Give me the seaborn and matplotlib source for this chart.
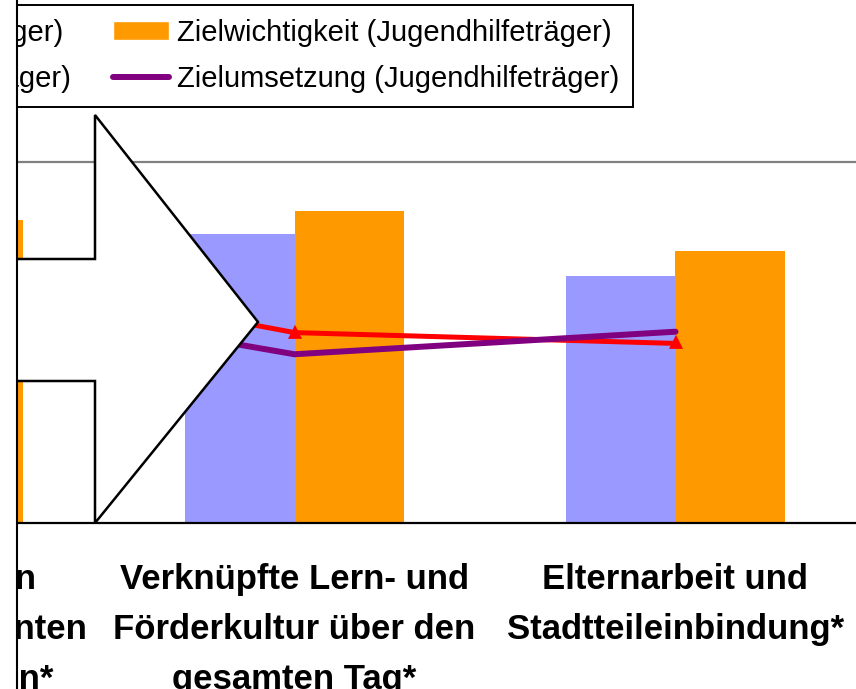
import pandas as pd
import matplotlib.pyplot as plt
import seaborn as sns
from matplotlib.patches import Polygon, Rectangle, Patch
from matplotlib.lines import Line2D

# Daten (Skala 0-4)
kategorien = ["Förderung von\nbesonderen Talenten\nund Fähigkeiten*",
              "Verknüpfte Lern- und\nFörderkultur über den\ngesamten Tag*",
              "Elternarbeit und\nStadtteileinbindung*"]
wichtig_schule = [3.10, 3.20, 2.74]
wichtig_jugend = [3.36, 3.46, 3.01]
umsetzung_schule = [2.90, 2.11, 1.99]
umsetzung_jugend = [2.60, 1.87, 2.12]

serien = ["Zielwichtigkeit (Schulträger)", "Zielwichtigkeit (Jugendhilfeträger)",
          "Zielumsetzung (Schulträger)", "Zielumsetzung (Jugendhilfeträger)"]

bars = pd.DataFrame({
    "kategorie": kategorien * 2,
    "wert": wichtig_schule + wichtig_jugend,
    "serie": [serien[0]] * 3 + [serien[1]] * 3,
})

sns.set_style("white")
plt.rcParams['font.family'] = ['Liberation Sans', 'DejaVu Sans']
plt.rcParams['text.color'] = 'black'

W, H = 856, 689
fig = plt.figure(figsize=(W / 100, H / 100), dpi=100)


def fx(px):
    return px / W


def fy(py):
    return 1 - py / H


# Achse reicht links und rechts über den Bildrand hinaus (Ausschnitt)
ax = fig.add_axes([fx(-277), fy(523), 1143 / W, 379 / H])

sns.barplot(data=bars, x="kategorie", y="wert", hue="serie",
            palette=["#9999FF", "#FF9900"], width=0.575, saturation=1,
            linewidth=0, legend=False, ax=ax)
sns.pointplot(x=kategorien, y=umsetzung_schule, color="#FF0000", markers="^",
              markersize=6, linewidth=3.6, ax=ax)
sns.pointplot(x=kategorien, y=umsetzung_jugend, color="#800080", markers="o",
              markersize=0, linewidth=4.3, solid_capstyle="round", ax=ax)

ax.set_xlim(-0.5, 2.5)
ax.set_ylim(0, 4.2)
ax.set_xlabel("")
ax.set_ylabel("")
ax.set_yticks([4])
ax.set_yticklabels([])
ax.tick_params(axis='y', length=0)
ax.yaxis.grid(True, color="#808080", linewidth=1.6)
ax.set_axisbelow(True)

ax.set_xticks([0.5, 1.5])
ax.set_xticklabels([])
ax.set_xticks([0, 1, 2], minor=True)
ax.set_xticklabels(kategorien, minor=True, fontsize=25, fontweight="bold",
                   linespacing=1.65, color="black")
ax.tick_params(axis='x', which='major', length=9, width=1, color="#333333",
               direction='out')
ax.tick_params(axis='x', which='minor', length=0, pad=29)

for s in ["top", "right", "left"]:
    ax.spines[s].set_visible(False)
ax.spines["bottom"].set_color("black")
ax.spines["bottom"].set_linewidth(1.6)

# Pfeil-Form
pfeil = [(-20, 259), (95, 259), (95, 115), (258, 322), (95, 523),
         (95, 381), (-20, 381)]
fig.add_artist(Polygon([(fx(x), fy(y)) for x, y in pfeil], closed=True,
                       transform=fig.transFigure, facecolor="white",
                       edgecolor="black", linewidth=1.8, joinstyle="miter",
                       zorder=6))

# Legende
handles = [Patch(facecolor="#9999FF"),
           Line2D([], [], color="#FF0000", lw=3.6, marker="^", markersize=6),
           Patch(facecolor="#FF9900"),
           Line2D([], [], color="#800080", lw=4.3, solid_capstyle="round")]
labels = [serien[0], serien[2], serien[1], serien[3]]
leg = fig.legend(handles, labels, ncol=2, loc="upper right",
                 bbox_to_anchor=(fx(633), fy(5)), frameon=True, fancybox=False,
                 edgecolor="black", framealpha=1, fontsize=21,
                 handlelength=1.92, handleheight=0.65, handletextpad=0.27,
                 columnspacing=1.44, labelspacing=0.63, borderpad=0.48,
                 borderaxespad=0)
leg.get_frame().set_linewidth(1.4)
leg.set_zorder(7)

# linker Rand des Ausschnitts
fig.add_artist(Rectangle((0, 0), fx(17), 1, transform=fig.transFigure,
                         facecolor="white", edgecolor="none", zorder=20))
fig.add_artist(Line2D([fx(17), fx(17)], [0, 1], transform=fig.transFigure,
                      color="black", lw=1.5, zorder=21))

fig.savefig("out.png", dpi=100)
